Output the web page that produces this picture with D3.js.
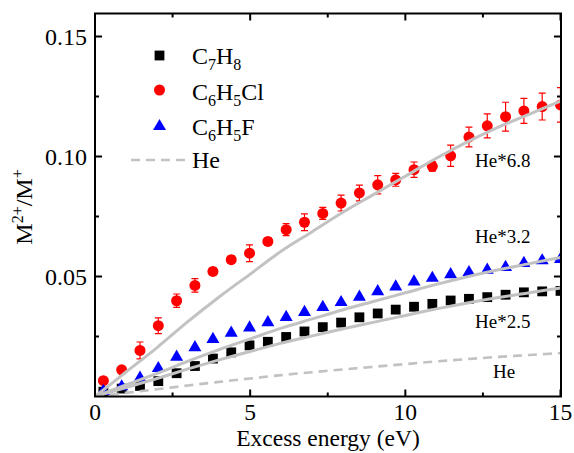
<!DOCTYPE html>
<html><head><meta charset="utf-8">
<script src="https://cdn.jsdelivr.net/npm/d3@7"></script>
<style>body{margin:0;background:#fff}svg{display:block}</style>
</head><body>
<svg id="c" width="574" height="453"></svg>
<script>
// ---- data ----
const energy = [0.27,0.86,1.45,2.04,2.63,3.22,3.80,4.39,4.98,5.57,6.16,6.75,7.34,7.93,8.52,9.11,9.69,10.28,10.87,11.46,12.05,12.64,13.23,13.82,14.41,15.00];
const c7h8 = [0.0020,0.0033,0.0044,0.0064,0.0097,0.0127,0.0158,0.0184,0.0213,0.0228,0.0248,0.0271,0.0289,0.0308,0.0330,0.0346,0.0362,0.0374,0.0386,0.0400,0.0407,0.0414,0.0424,0.0434,0.0438,0.0440];
const c7h8Err = [0,0,0,0,0,0,0,0,0,0,0,0,0,0,0,0,0,0,0,0,0.0012,0.0012,0.0012,0.0012,0.0010,0.0010];
const c6h5cl = [0.0066,0.0111,0.0192,0.0295,0.0399,0.0463,0.0521,0.0570,0.0597,0.0646,0.0695,0.0726,0.0763,0.0806,0.0848,0.0882,0.0903,0.0945,0.0959,0.1003,0.1081,0.1128,0.1166,0.1190,0.1208,0.1215];
const c6h5clErr = [0.0010,0.0015,0.0035,0.0033,0.0028,0.0028,0.0015,0.0015,0.0035,0.0015,0.0025,0.0035,0.0025,0.0033,0.0033,0.0038,0.0027,0.0032,0.0020,0.0044,0.0041,0.0050,0.0060,0.0052,0.0056,0.0072];
const c6h5f = [0.0030,0.0049,0.0085,0.0125,0.0172,0.0212,0.0246,0.0272,0.0294,0.0316,0.0338,0.0359,0.0380,0.0400,0.0422,0.0445,0.0465,0.0486,0.0501,0.0516,0.0525,0.0535,0.0546,0.0563,0.0574,0.0580];
const heEnergy = [0,1,2,3,4,5,6,7,8,9,10,11,12,13,14,15];
const he = [0,0.0015,0.0030,0.0046,0.0061,0.0075,0.0089,0.0101,0.0113,0.0124,0.0135,0.0146,0.0156,0.0165,0.0173,0.0181];
const heFactors = [6.8, 3.2, 2.5];
const heLabels = ["He*6.8","He*3.2","He*2.5","He"];
const xTicks = [0,5,10,15];
const xMinor = [2.5,7.5,12.5];
const yTicks = [0.05,0.10,0.15];
const yMinor = [0.025,0.075,0.125];

// ---- layout ----
const svg = d3.select("#c");
const L = 95, R = 561, T = 13.5, B = 396.5;
const x = d3.scaleLinear().domain([0,15]).range([L, 560.5]);
const y = d3.scaleLinear().domain([0,0.16]).range([396.5, 12.5]);
const font = "'Liberation Serif','Times New Roman',serif";
const grey = "#c2c2c2";

svg.append("defs").append("clipPath").attr("id","clip")
  .append("rect").attr("x",L).attr("y",T).attr("width",R-L).attr("height",B-T);

const plot = svg.append("g").attr("clip-path","url(#clip)");

const ser = energy.map((e,i)=>({e, k:c7h8[i], kErr:c7h8Err[i], r:c6h5cl[i], rErr:c6h5clErr[i], b:c6h5f[i]}));

function errBars(g, key, errKey, color){
  const d = ser.filter(p=>p[errKey]>0);
  g.selectAll(null).data(d).enter().append("path")
    .attr("d", p=>{
      const cx = x(p.e), y1 = y(p[key]+p[errKey]), y2 = y(p[key]-p[errKey]);
      return `M${cx},${y1}V${y2}M${cx-3.5},${y1}H${cx+3.5}M${cx-3.5},${y2}H${cx+3.5}`;
    })
    .attr("stroke", color).attr("stroke-width",1.2).attr("fill","none");
}
errBars(plot, "k", "kErr", "#000");
plot.selectAll(null).data(ser).enter().append("rect")
  .attr("x", p=>x(p.e)-4.9).attr("y", p=>y(p.k)-4.9)
  .attr("width",9.8).attr("height",9.8).attr("fill","#000");

errBars(plot, "r", "rErr", "#ff0000");
plot.selectAll(null).data(ser).enter().append("circle")
  .attr("cx", p=>x(p.e)).attr("cy", p=>y(p.r)).attr("r",5.5).attr("fill","#ff0000");

function tri(cx, cy){ const w=6.5, h=5.6; return `M${cx},${cy-h}L${cx+w},${cy+h}L${cx-w},${cy+h}Z`; }
plot.selectAll(null).data(ser).enter().append("path")
  .attr("d", p=>tri(x(p.e), y(p.b))).attr("fill","#0000ff");

// He lines
const heData = heEnergy.map((e,i)=>({e, v:he[i]}));
heFactors.forEach(f=>{
  plot.append("path").datum(heData)
    .attr("d", d3.line().x(d=>x(d.e)).y(d=>y(d.v*f)).curve(d3.curveMonotoneX))
    .attr("fill","none").attr("stroke",grey).attr("stroke-width",3);
});
plot.append("path").datum(heData)
  .attr("d", d3.line().x(d=>x(d.e)).y(d=>y(d.v)).curve(d3.curveMonotoneX))
  .attr("fill","none").attr("stroke",grey).attr("stroke-width",2.6).attr("stroke-dasharray","9,6");

// frame
svg.append("rect").attr("x",L).attr("y",T).attr("width",R-L).attr("height",B-T)
  .attr("fill","none").attr("stroke","#000").attr("stroke-width",2);

// ticks (inward, all four sides)
const tg = svg.append("g").attr("stroke","#000").attr("stroke-width",2);
function tick(x1,y1,x2,y2){ tg.append("line").attr("x1",x1).attr("y1",y1).attr("x2",x2).attr("y2",y2); }
xTicks.forEach(v=>{ tick(x(v),B,x(v),B-7); tick(x(v),T,x(v),T+7); });
xMinor.forEach(v=>{ tick(x(v),B,x(v),B-4); tick(x(v),T,x(v),T+4); });
yTicks.forEach(v=>{ tick(L,y(v),L+7,y(v)); tick(R,y(v),R-7,y(v)); });
yMinor.forEach(v=>{ tick(L,y(v),L+4,y(v)); tick(R,y(v),R-4,y(v)); });

// tick labels
const tl = svg.append("g").attr("font-family",font).attr("font-size",24).attr("fill","#000");
xTicks.forEach(v=>{
  tl.append("text").attr("x",x(v)).attr("y",419.5).attr("font-size",23.5).attr("text-anchor","middle").text(d3.format("d")(v));
});
yTicks.forEach(v=>{
  tl.append("text").attr("x",87).attr("y",y(v)+8).attr("text-anchor","end").text(d3.format(".2f")(v));
});

// axis titles
tl.append("text").attr("x",(L+R)/2).attr("y",445.5).attr("font-size",23.5).attr("text-anchor","middle").text("Excess energy (eV)");
const yl = tl.append("text").attr("transform","translate(32,207) rotate(-90)").attr("text-anchor","middle");
yl.append("tspan").text("M");
yl.append("tspan").attr("font-size",16).attr("dy",-9).text("2+");
yl.append("tspan").attr("dy",9).text("/M");
yl.append("tspan").attr("font-size",16).attr("dy",-9).text("+");

// legend
const lg = svg.append("g").attr("font-family",font).attr("font-size",24).attr("fill","#000");
lg.append("rect").attr("x",159.5-4.9).attr("y",55.5-4.9).attr("width",9.8).attr("height",9.8).attr("fill","#000");
lg.append("circle").attr("cx",159.5).attr("cy",90).attr("r",5.5).attr("fill","#ff0000");
lg.append("path").attr("d",tri(159.5,124.5)).attr("fill","#0000ff");
lg.append("line").attr("x1",131).attr("x2",188).attr("y1",160).attr("y2",160)
  .attr("stroke",grey).attr("stroke-width",2.6).attr("stroke-dasharray","9,6");
function formula(yb, parts){
  const t = lg.append("text").attr("x",192).attr("y",yb);
  let sub = false;
  parts.forEach(p=>{
    const isSub = /^\d+$/.test(p);
    const ts = t.append("tspan").text(p);
    if(isSub && !sub){ ts.attr("font-size",16).attr("dy",6); sub = true; }
    else if(!isSub && sub){ ts.attr("dy",-6); sub = false; }
    else if(isSub) ts.attr("font-size",16);
  });
}
formula(63.5, ["C","7","H","8"]);
formula(99.5, ["C","6","H","5","Cl"]);
formula(134.5, ["C","6","H","5","F"]);
lg.append("text").attr("x",192).attr("y",168).text("He");

// annotations
const an = svg.append("g").attr("font-family",font).attr("font-size",19).attr("fill","#000");
an.append("text").attr("x",475).attr("y",166.5).text(heLabels[0]);
an.append("text").attr("x",475).attr("y",242.5).text(heLabels[1]);
an.append("text").attr("x",475).attr("y",328).text(heLabels[2]);
an.append("text").attr("x",493).attr("y",378).text(heLabels[3]);
</script>
</body></html>
